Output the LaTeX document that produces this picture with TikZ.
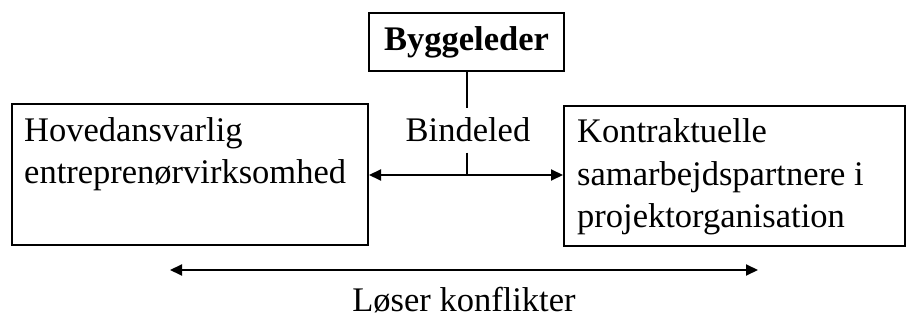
\documentclass[tikz,border=0pt]{standalone}
\usepackage{fontspec}
\setmainfont{Liberation Serif}
\usetikzlibrary{arrows.meta}
\begin{document}
\begin{tikzpicture}[x=1pt,y=-1pt,
  frame/.style={draw, line width=2pt, rectangle, inner sep=0pt},
  txt/.style={inner sep=0pt, font=\fontsize{34.5}{42}\selectfont},
  link/.style={line width=2pt, {Triangle[length=12pt,width=11pt]}-{Triangle[length=12pt,width=11pt]}},
  plain/.style={line width=2pt}]
\useasboundingbox (0,0) rectangle (908,320);

% Boxes
\node[frame, minimum width=195pt, minimum height=58pt, font=\fontsize{34.5}{42}\selectfont\bfseries]
  (bygg) at (466.5,42) {Byggeleder};
\node[frame, minimum width=356pt, minimum height=141pt, anchor=north west] (hov) at (11,103) {};
\node[frame, minimum width=341pt, minimum height=140pt, anchor=north west] (kon) at (563,105) {};

% Box texts (first baseline anchored)
\node[txt, anchor=base west] (hovtxt) at (24,142)
  {\parbox[t]{340pt}{\raggedright Hovedansvarlig\\entreprenørvirksomhed}};
\node[txt, anchor=base west] (kontxt) at (577,143)
  {\parbox[t]{320pt}{\raggedright\baselineskip=42.5pt Kontraktuelle\\samarbejdspartnere i\\projektorganisation}};

% Link between the two parties via the construction manager
\node[txt, anchor=base, inner ysep=10pt] (bind) at (468,142) {Bindeled};
\coordinate (junc) at (466.5,175);
\draw[plain] (bygg.south) -- (bygg.south |- bind.north);
\draw[plain] (bygg.south |- bind.south) -- (junc);
\draw[link] (hov.east |- junc) -- (kon.west |- junc);

% Conflict resolution span
\coordinate (cl) at (170,270);
\coordinate (cr) at (758,270);
\draw[link] (cl) -- (cr);
\node[txt, anchor=base] (los) at (464,312) {Løser konflikter};
\end{tikzpicture}
\end{document}
